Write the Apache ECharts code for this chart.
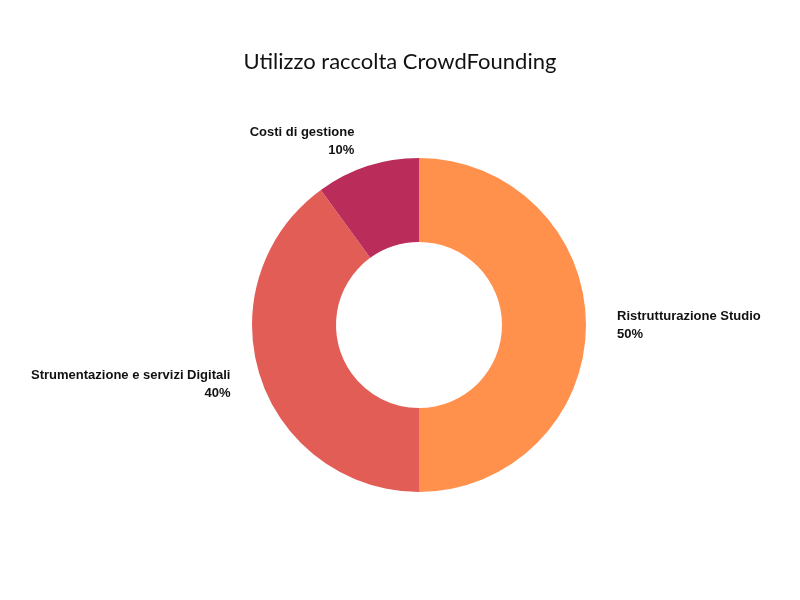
<!DOCTYPE html>
<html><head><meta charset="utf-8">
<script src="https://cdn.jsdelivr.net/npm/echarts@6/dist/echarts.min.js"></script>
<style>html,body{margin:0;padding:0;background:#fff}#c{width:800px;height:600px}</style>
</head><body><div id="c"></div>
<script>
const categories = ["Ristrutturazione Studio", "Strumentazione e servizi Digitali", "Costi di gestione"];
const values = [50, 40, 10];
const colors = ["#FF914D", "#E35D57", "#BA2D5B"];
const chart = echarts.init(document.getElementById('c'));
chart.setOption({
  title: {text: "Utilizzo raccolta CrowdFounding", left: 'center', top: 46,
    textStyle: {fontFamily: 'Lato', fontWeight: 'normal', fontSize: 22, color: '#111'}},
  series: [{
    type: 'pie', center: [419, 325], radius: [83, 167], startAngle: 90,
    data: categories.map((n, i) => ({name: n, value: values[i], itemStyle: {color: colors[i]}})),
    label: {show: true, formatter: '{b}\n{d}%', fontFamily: 'Liberation Sans', fontWeight: 'bold',
      fontSize: 13, color: '#111', lineHeight: 18, align: 'center'},
    labelLine: {show: false, length: 26, length2: 0},
    emphasis: {disabled: true}
  }]
});
</script></body></html>
